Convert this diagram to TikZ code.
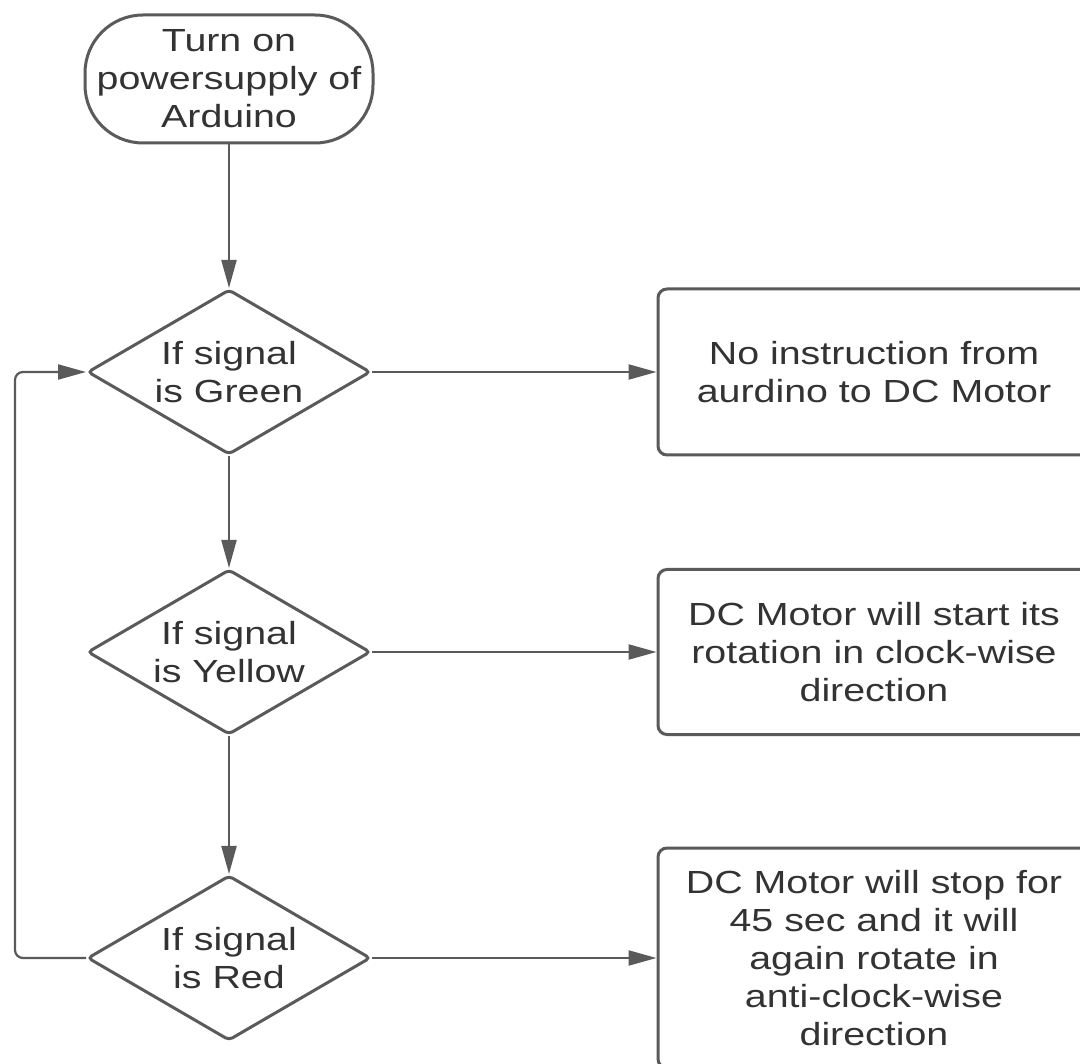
\documentclass[tikz,border=0pt]{standalone}
\usepackage{fontspec}
\setmainfont{Liberation Sans}[FakeStretch=1.23]
\usetikzlibrary{shapes.geometric,arrows.meta}
\definecolor{linegray}{HTML}{5A5A5A}
\definecolor{textgray}{HTML}{333333}
\tikzset{
  txt/.style={text=textgray, align=center, inner sep=0pt, font=\fontsize{32}{38}\selectfont},
  base/.style={txt, draw=linegray, line width=3pt},
  terminal/.style={base, rectangle, rounded corners=58pt, minimum width=288pt, minimum height=128pt},
  decision/.style={draw=linegray, line width=3pt, diamond, rounded corners=4pt, inner sep=0pt,
    minimum width=283pt, minimum height=165pt},
  actionbox/.style={base, rectangle, rounded corners=9pt, minimum width=432pt},
  arr/.style={draw=linegray, line width=2.2pt, -{Triangle[length=28pt,width=15pt]}}
}
\begin{document}
\begin{tikzpicture}[x=1pt,y=-1pt]
\clip (0,0) rectangle (1080,1064);
\fill[white] (0,0) rectangle (1080,1064);
\node[terminal] (start) at (229,79) {Turn on\\powersupply of\\Arduino};
\node[decision] (d1) at (229,372) {};
\node[txt] (t1) at (d1) {If signal\\is Green};
\node[decision] (d2) at (229,652) {};
\node[txt] (t2) at (d2) {If signal\\is Yellow};
\node[decision] (d3) at (229,958) {};
\node[txt] (t3) at (d3) {If signal\\is Red};
\node[actionbox, minimum height=166pt] (b1) at (874,372) {No instruction from\\aurdino to DC Motor};
\node[actionbox, minimum height=165pt] (b2) at (874,652) {DC Motor will start its\\rotation in clock-wise\\direction};
\node[actionbox, minimum height=220pt] (b3) at (874,958) {DC Motor will stop for\\45 sec and it will\\again rotate in\\anti-clock-wise\\direction};
\coordinate (lp) at (15,665);
\draw[arr] (start) -- (d1);
\draw[arr] (d1) -- (d2);
\draw[arr] (d2) -- (d3);
\draw[arr] (d1) -- (b1);
\draw[arr] (d2) -- (b2);
\draw[arr] (d3) -- (b3);
\draw[arr, rounded corners=8pt] (d3.west) -| (lp) |- (d1.west);
\end{tikzpicture}
\end{document}
